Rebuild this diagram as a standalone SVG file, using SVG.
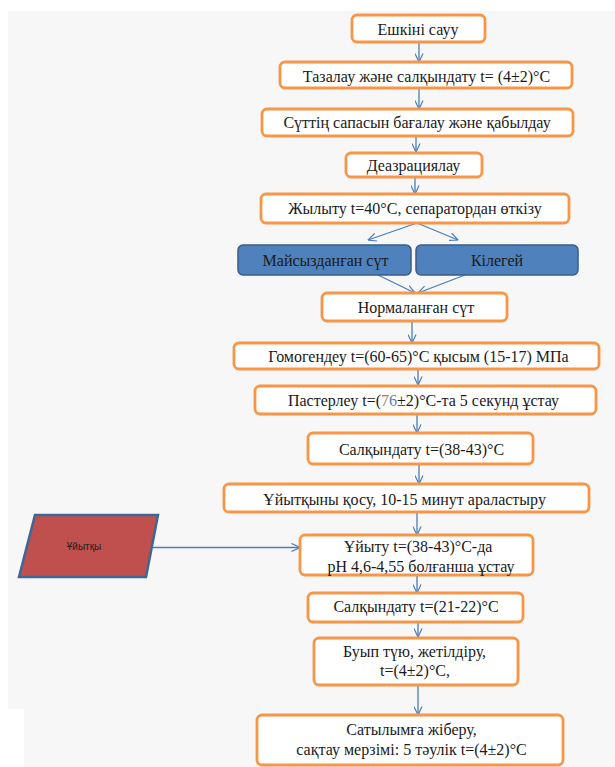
<svg xmlns="http://www.w3.org/2000/svg" width="615" height="767" viewBox="0 0 615 767">
<defs>
<style>
.bx{fill:#ffffff;stroke:#f79646;stroke-width:2.8}
.bl{fill:#4f81bd;stroke:#385d8a;stroke-width:1.5}
.t{font-family:"Liberation Serif","Times New Roman",serif;font-size:16px;fill:#1a1a1a;text-anchor:middle}
.c{fill:none;stroke:#4a7ebb;stroke-width:1.3}
</style>
<marker id="ah" viewBox="0 0 10 10" refX="9.5" refY="5" markerWidth="9" markerHeight="9" markerUnits="userSpaceOnUse" orient="auto">
<path d="M0,0.5 L9.5,5 L0,9.5" fill="none" stroke="#4a7ebb" stroke-width="1.3"/>
</marker>
</defs>
<rect width="615" height="767" fill="#ffffff"/>
<path d="M8,11 H615 V767 H24 V709 H8 Z" fill="#f7f7f7"/>

<g id="connectors">
<line class="c" x1="419" y1="42" x2="419" y2="62" marker-end="url(#ah)"/>
<line class="c" x1="419" y1="89" x2="419" y2="109" marker-end="url(#ah)"/>
<line class="c" x1="416" y1="136" x2="416" y2="152" marker-end="url(#ah)"/>
<line class="c" x1="415" y1="177" x2="415" y2="194" marker-end="url(#ah)"/>
<line class="c" x1="417" y1="223" x2="368" y2="240" marker-end="url(#ah)"/>
<line class="c" x1="417" y1="223" x2="458" y2="240" marker-end="url(#ah)"/>
<line class="c" x1="378" y1="275" x2="415" y2="293" marker-end="url(#ah)"/>
<line class="c" x1="465" y1="275" x2="418" y2="293" marker-end="url(#ah)"/>
<line class="c" x1="412" y1="321" x2="412" y2="343" marker-end="url(#ah)"/>
<line class="c" x1="418" y1="370" x2="418" y2="385" marker-end="url(#ah)"/>
<line class="c" x1="417" y1="414" x2="417" y2="433" marker-end="url(#ah)"/>
<line class="c" x1="419" y1="464" x2="419" y2="484" marker-end="url(#ah)"/>
<line class="c" x1="417" y1="512" x2="417" y2="535" marker-end="url(#ah)"/>
<line class="c" x1="417" y1="575" x2="417" y2="593" marker-end="url(#ah)"/>
<line class="c" x1="418" y1="622" x2="418" y2="637" marker-end="url(#ah)"/>
<line class="c" x1="418" y1="685" x2="418" y2="715" marker-end="url(#ah)"/>
<line class="c" x1="153" y1="547.5" x2="300" y2="547.5" marker-end="url(#ah)"/>
</g>

<g id="n1"><rect class="bx" x="352" y="15" width="133" height="27" rx="5"/><text class="t" x="418" y="35">Ешкіні сауу</text></g>
<g id="n2"><rect class="bx" x="280" y="62" width="292" height="26" rx="5"/><text class="t" x="426.5" y="81.5">Тазалау және салқындату t= (4±2)°C</text></g>
<g id="n3"><rect class="bx" x="262" y="109" width="311" height="27" rx="5"/><text class="t" x="417" y="128">Сүттің сапасын бағалау және қабылдау</text></g>
<g id="n4"><rect class="bx" x="346" y="153" width="136" height="24" rx="5"/><text class="t" x="413.5" y="171">Деазрациялау</text></g>
<g id="n5"><rect class="bx" x="261" y="194" width="308" height="29" rx="5"/><text class="t" x="415" y="213.5">Жылыту t=40°C, сепаратордан өткізу</text></g>
<g id="n6"><rect class="bl" x="238" y="245" width="173" height="30" rx="5"/><text class="t" x="325.5" y="265.5">Майсызданған сүт</text></g>
<g id="n7"><rect class="bl" x="416" y="245" width="162" height="30" rx="5"/><text class="t" x="497" y="265.5">Кілегей</text></g>
<g id="n8"><rect class="bx" x="322" y="293" width="185" height="28" rx="5"/><text class="t" x="416" y="313">Нормаланған сүт</text></g>
<g id="n9"><rect class="bx" x="234" y="343" width="365" height="26" rx="5"/><text class="t" x="418.5" y="361.5">Гомогендеу t=(60-65)°C қысым (15-17) МПа</text></g>
<g id="n10"><rect class="bx" x="255" y="386" width="341" height="28" rx="5"/><text class="t" x="423.5" y="406">Пастерлеу t=(<tspan fill="#c0703a">7</tspan><tspan fill="#4f81bd">6</tspan>±2)°C-та 5 секунд ұстау</text></g>
<g id="n11"><rect class="bx" x="308" y="433" width="225" height="31" rx="5"/><text class="t" x="421.5" y="455">Салқындату t=(38-43)°C</text></g>
<g id="n12"><rect class="bx" x="224" y="484" width="365" height="28" rx="5"/><text class="t" x="404.5" y="505">Ұйытқыны қосу, 10-15 минут араластыру</text></g>
<g id="n13"><rect class="bx" x="300" y="535" width="233" height="40" rx="5"/><text class="t" x="418" y="551.5">Ұйыту t=(38-43)°C-да</text><text class="t" x="421" y="571.5">pH 4,6-4,55 болғанша ұстау</text></g>
<g id="n14"><rect class="bx" x="308" y="593" width="215" height="29" rx="5"/><text class="t" x="416" y="612">Салқындату t=(21-22)°C</text></g>
<g id="n15"><rect class="bx" x="314" y="638" width="204" height="47" rx="5"/><text class="t" x="414.5" y="656.5">Буып түю, жетілдіру,</text><text class="t" x="415" y="676">t=(4±2)°C,</text></g>
<g id="n16"><rect class="bx" x="257" y="715" width="306" height="50" rx="5"/><text class="t" x="411.5" y="735">Сатылымға жіберу,</text><text class="t" x="411.5" y="755">сақтау мерзімі: 5 тәулік t=(4±2)°C</text></g>
<g id="n17"><polygon points="35,515 158,515 146,577 19,577" fill="#c0504d" stroke="#3e6797" stroke-width="2.5"/><text x="84" y="550" font-family="'Liberation Sans',Arial,sans-serif" font-size="10" fill="#222" text-anchor="middle">Ұйытқы</text></g>
</svg>
